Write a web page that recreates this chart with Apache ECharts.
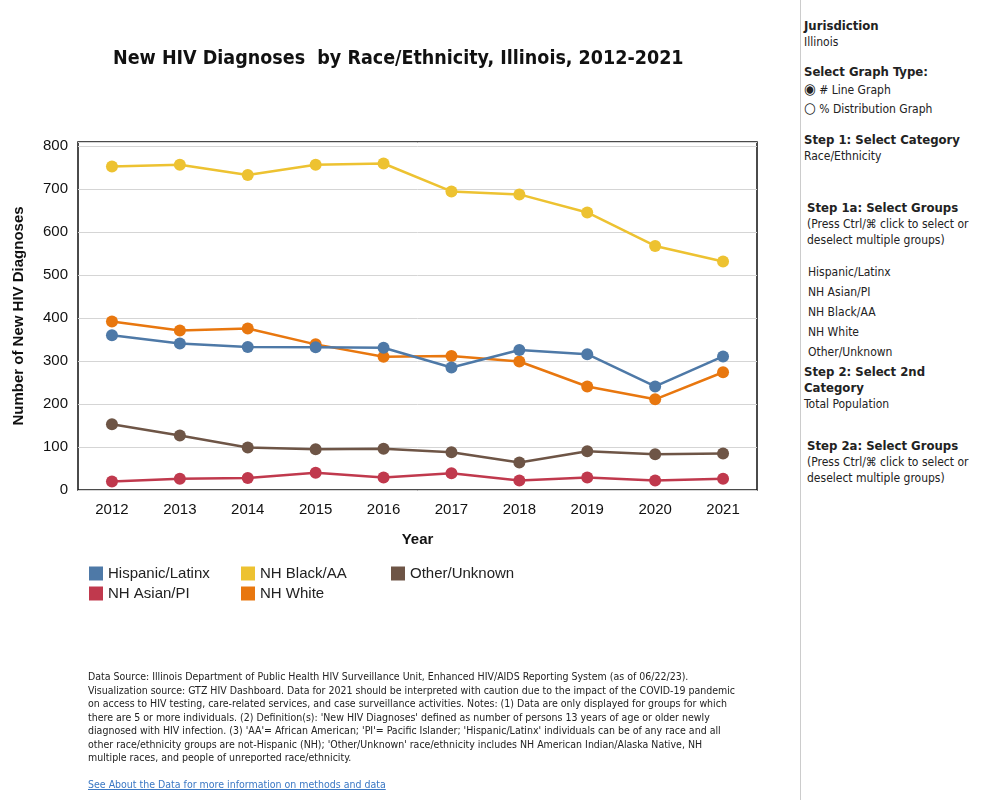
<!DOCTYPE html><html><head><meta charset="utf-8">
<script src="https://cdn.jsdelivr.net/npm/echarts@6/dist/echarts.min.js"></script>
<style>body{margin:0;font-family:"DejaVu Sans",sans-serif;}#c{position:absolute;left:0;top:0;width:800px;height:800px}
.p{position:absolute;font-size:12px;color:#222;font-family:"DejaVu Sans Condensed","DejaVu Sans",sans-serif;}
.b{font-weight:bold;font-size:13px}</style></head><body>
<div id="c"></div>
<div style="position:absolute;left:800px;top:0;width:1px;height:800px;background:#ccc"></div>
<div class="p" style="left:804px;top:18px;width:190px;line-height:16px">
<div class="b">Jurisdiction</div><div>Illinois</div><div style="height:14px"></div>
<div class="b">Select Graph Type:</div>
<div style="line-height:18px"><span style="font-size:15px">◉</span> # Line Graph</div><div style="line-height:18px"><span style="font-size:15px">○</span> % Distribution Graph</div><div style="height:14px"></div>
<div class="b">Step 1: Select Category</div><div>Race/Ethnicity</div><div style="height:36px"></div>
<div class="b" style="margin-left:3px">Step 1a: Select Groups</div><div style="margin-left:3px">(Press Ctrl/⌘ click to select or deselect multiple groups)</div><div style="height:14px"></div>
<div style="line-height:20px;margin-left:4px">Hispanic/Latinx<br>NH Asian/PI<br>NH Black/AA<br>NH White<br>Other/Unknown</div>
<div class="b" style="margin-top:2px">Step 2: Select 2nd<br>Category</div><div>Total Population</div><div style="height:26px"></div>
<div class="b" style="margin-left:3px">Step 2a: Select Groups</div><div style="margin-left:3px">(Press Ctrl/⌘ click to select or deselect multiple groups)</div>
</div>
<div class="p" style="left:88px;top:670px;width:650px;font-size:10.5px;line-height:13.5px">Data Source: Illinois Department of Public Health HIV Surveillance Unit, Enhanced HIV/AIDS Reporting System (as of 06/22/23). Visualization source: GTZ HIV Dashboard. Data for 2021 should be interpreted with caution due to the impact of the COVID-19 pandemic on access to HIV testing, care-related services, and case surveillance activities. Notes: (1) Data are only displayed for groups for which there are 5 or more individuals. (2) Definition(s): 'New HIV Diagnoses' defined as number of persons 13 years of age or older newly diagnosed with HIV infection. (3) 'AA'= African American; 'PI'= Pacific Islander; 'Hispanic/Latinx' individuals can be of any race and all other race/ethnicity groups are not-Hispanic (NH); 'Other/Unknown' race/ethnicity includes NH American Indian/Alaska Native, NH multiple races, and people of unreported race/ethnicity.<br><br><span style="color:#3b78c4;text-decoration:underline">See About the Data for more information on methods and data</span></div>
<script>
const years=['2012','2013','2014','2015','2016','2017','2018','2019','2020','2021'];
const hispanic=[360,341,333,332,331,285,326,316,241,311];
const asianPI=[20,26,28,40,29,39,22,29,22,26];
const black=[753,757,733,757,760,695,688,646,568,532];
const white=[392,371,376,339,310,312,299,241,211,274];
const other=[153,127,99,95,96,88,64,90,83,85];
const names=['Hispanic/Latinx','NH Asian/PI','NH Black/AA','NH White','Other/Unknown'];
const colors=['#4e79a7','#c0394d','#edc231','#e8770f','#6e5546'];
const data=[hispanic,asianPI,black,white,other];
const order=[2,3,0,4,1];
const lg=(left,d)=>({left:left,top:561,orient:'vertical',itemGap:5,icon:'rect',itemWidth:14,itemHeight:14,textStyle:{fontSize:15,color:'#222'},data:d});
const ch=echarts.init(document.getElementById('c'));
ch.setOption({
 animation:false,
 title:{text:'New HIV Diagnoses  by Race/Ethnicity, Illinois, 2012-2021',left:108,top:44,textStyle:{fontSize:19.5,fontWeight:'bold',color:'#111',fontFamily:'DejaVu Sans Condensed'}},
 grid:{left:78,top:142,width:679,height:348,show:true,borderColor:'#111',borderWidth:1.5},
 legend:[lg(84,[names[0],names[1]]),lg(236,[names[2],names[3]]),lg(386,[names[4]])],
 xAxis:{type:'category',data:years,name:'Year',nameLocation:'middle',nameGap:42,nameTextStyle:{fontSize:15,fontWeight:'bold',color:'#111'},
   axisLine:{show:false},axisTick:{show:false},axisLabel:{fontSize:15,color:'#111',margin:12}},
 yAxis:{type:'value',min:0,max:810,interval:100,name:'Number of New HIV Diagnoses',nameLocation:'middle',nameGap:52,
   nameTextStyle:{fontSize:15,fontWeight:'bold',color:'#111'},axisLabel:{fontSize:15,color:'#111',margin:10,showMaxLabel:false},
   splitLine:{lineStyle:{color:'#d5d5d5'}}},
 series:order.map(i=>({name:names[i],type:'line',data:data[i],color:colors[i],symbol:'circle',symbolSize:12,lineStyle:{width:2.5}}))
});
</script></body></html>
